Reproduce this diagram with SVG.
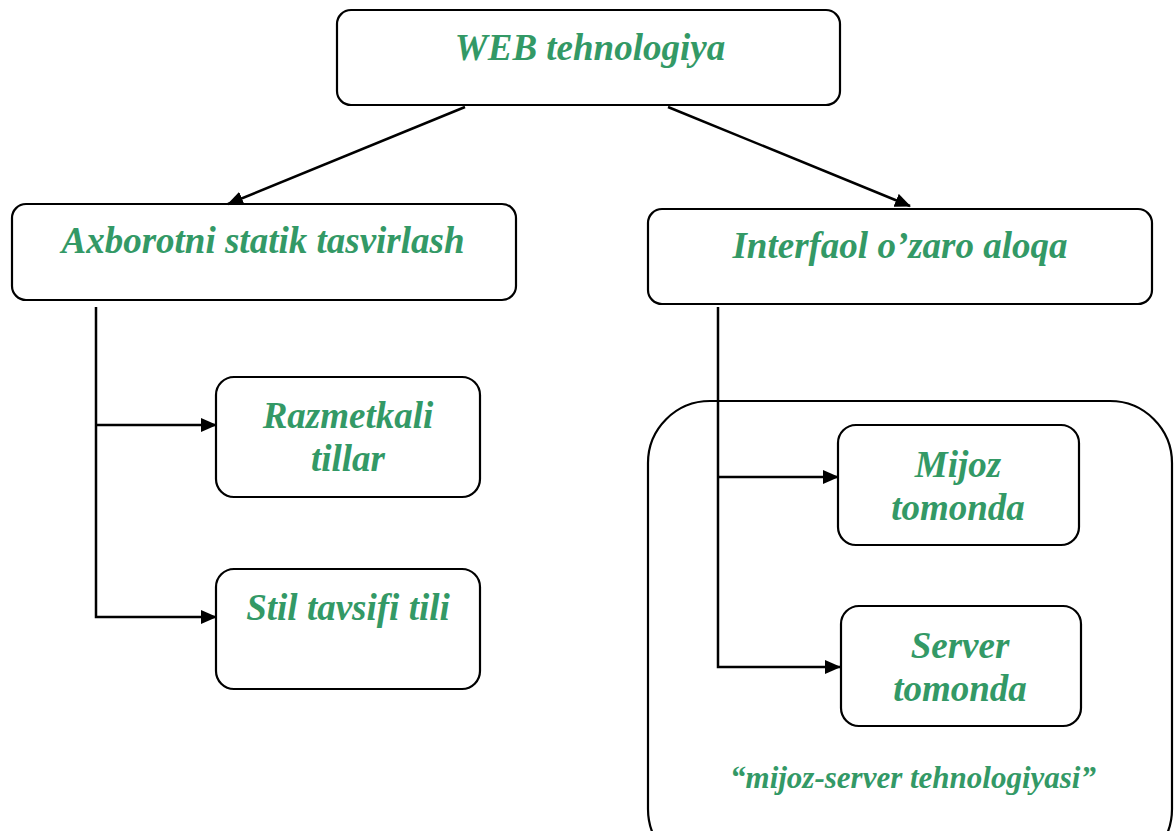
<svg xmlns="http://www.w3.org/2000/svg" width="1175" height="831" viewBox="0 0 1175 831">
<defs>
<marker id="ah" markerWidth="16" markerHeight="14" refX="15" refY="7" orient="auto" markerUnits="userSpaceOnUse">
<path d="M0,0 L16,7 L0,14 Z" fill="#000"/>
</marker>
<style>
.box{fill:#fff;stroke:#000;stroke-width:2.2}
.t{font-family:"Liberation Serif","Times New Roman",serif;font-weight:bold;font-style:italic;fill:#339966;text-anchor:middle}
.big{font-size:37px}
.mid{font-size:37px}
.sm{font-size:31px}
.c{fill:none;stroke:#000;stroke-width:2.5}
</style>
</defs>
<rect width="1175" height="831" fill="#fff"/>
<g id="container">
<rect x="648" y="401" width="524" height="470" rx="62" class="box"/>
<text x="913" y="788" class="t sm">“mijoz-server tehnologiyasi”</text>
</g>
<g id="web">
<rect x="337" y="10" width="503" height="95" rx="14" class="box"/>
<text x="590" y="60" class="t big">WEB tehnologiya</text>
</g>
<g id="axborot">
<rect x="12" y="204" width="504" height="96" rx="14" class="box"/>
<text x="263" y="253" class="t big">Axborotni statik tasvirlash</text>
</g>
<g id="interfaol">
<rect x="648" y="209" width="504" height="95" rx="14" class="box"/>
<text x="900" y="258" class="t big">Interfaol o’zaro aloqa</text>
</g>
<g id="razmetkali">
<rect x="216" y="377" width="264" height="120" rx="18" class="box"/>
<text x="348" y="428" class="t mid">Razmetkali</text>
<text x="348" y="471" class="t mid">tillar</text>
</g>
<g id="stil">
<rect x="216" y="569" width="264" height="120" rx="18" class="box"/>
<text x="348" y="620" class="t mid">Stil tavsifi tili</text>
</g>
<g id="mijoz">
<rect x="838" y="425" width="241" height="120" rx="18" class="box"/>
<text x="958" y="477" class="t mid">Mijoz</text>
<text x="958" y="520" class="t mid">tomonda</text>
</g>
<g id="server">
<rect x="841" y="606" width="240" height="120" rx="18" class="box"/>
<text x="960" y="658" class="t mid">Server</text>
<text x="960" y="701" class="t mid">tomonda</text>
</g>
<g id="connectors">
<line x1="465" y1="107" x2="228" y2="204" class="c" marker-end="url(#ah)"/>
<line x1="668" y1="107" x2="910" y2="206" class="c" marker-end="url(#ah)"/>
<polyline points="96,307 96,617 216,617" class="c" marker-end="url(#ah)"/>
<line x1="96" y1="425" x2="216" y2="425" class="c" marker-end="url(#ah)"/>
<polyline points="718,307 718,667 840,667" class="c" marker-end="url(#ah)"/>
<line x1="718" y1="477" x2="838" y2="477" class="c" marker-end="url(#ah)"/>
</g>
</svg>
